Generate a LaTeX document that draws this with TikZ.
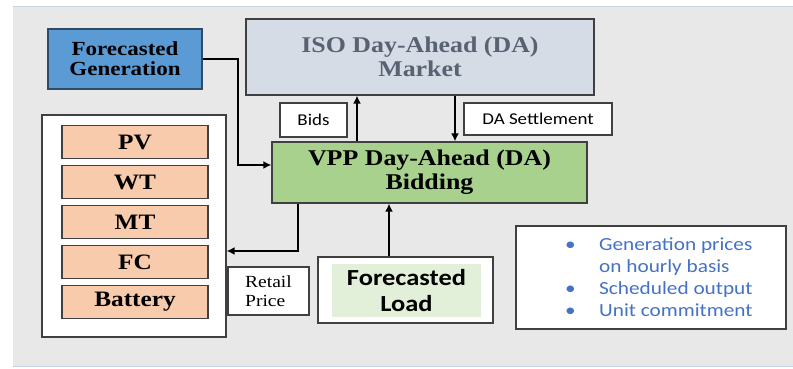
\documentclass[tikz,border=0pt]{standalone}
\usepackage{fontspec}
\setmainfont[FakeStretch=1.15]{Liberation Serif}
\newfontfamily\calibrifont[FakeStretch=1.15]{Carlito}
\usetikzlibrary{arrows.meta, positioning, calc}
\definecolor{PanelGray}{HTML}{E8E8E8}
\definecolor{PanelEdge}{HTML}{C9D3E3}
\definecolor{GenBlue}{HTML}{5B9BD5}
\definecolor{GenEdge}{HTML}{2F4B66}
\definecolor{MarketGray}{HTML}{D6DCE5}
\definecolor{MarketText}{HTML}{596273}
\definecolor{BidGreen}{HTML}{A9D18E}
\definecolor{LoadGreen}{HTML}{E2F0D9}
\definecolor{UnitPeach}{HTML}{F8CBAD}
\definecolor{ListBlue}{HTML}{4472C4}
\definecolor{EdgeGray}{HTML}{404040}
\tikzset{
    % Node styles
    mainbox/.style={
        rectangle,
        draw=EdgeGray,
        line width=1.3pt,
        inner sep=0pt,
        align=center,
        font=\bfseries\fontsize{22.5}{24}\selectfont
    },
    unitbox/.style={
        rectangle,
        draw=EdgeGray,
        fill=UnitPeach,
        line width=1.2pt,
        minimum width=146pt,
        minimum height=33pt,
        inner sep=0pt,
        font=\bfseries\fontsize{22}{24}\selectfont
    },
    labelbox/.style={
        rectangle,
        draw=EdgeGray,
        fill=white,
        line width=1.2pt,
        inner sep=0pt,
        align=center
    },
    % Arrow styles
    myarrow/.style={
        -{Latex[length=8pt,width=8pt]},
        line width=2.5pt,
        black
    }
}
\begin{document}
\begin{tikzpicture}[x=1pt,y=-1pt]
    \useasboundingbox (0,0) rectangle (793,369);

    % Background panel
    \fill[PanelGray] (13,7) rectangle (793,366);
    \draw[PanelEdge,line width=1pt] (13,7) -- (793,7);
    \draw[PanelEdge,line width=1pt] (13,366) -- (793,366);

    % Forecasted generation
    \node[mainbox, draw=GenEdge, fill=GenBlue, minimum width=154pt, minimum height=60pt,
          font=\bfseries\fontsize{20}{20}\selectfont] (gen) at (125,59) {Forecasted\\Generation};

    % ISO market
    \node[mainbox, fill=MarketGray, text=MarketText, minimum width=348pt, minimum height=76pt] (iso) at (420,57) {ISO Day-Ahead (DA)\\Market};

    % VPP bidding
    \node[mainbox, fill=BidGreen, minimum width=315pt, minimum height=61pt] (vpp) at (429.5,172.5) {VPP Day-Ahead (DA)\\Bidding};

    % Labels between market and VPP
    \node[labelbox, minimum width=67pt, minimum height=34pt,
          font=\calibrifont\fontsize{16.5}{18}\selectfont] (bids) at (313.5,120) {Bids};
    \node[labelbox, minimum width=148pt, minimum height=32pt,
          font=\calibrifont\fontsize{16.5}{18}\selectfont] (settle) at (538,119) {DA Settlement};

    % Units
    \node[labelbox, minimum width=184pt, minimum height=222pt] (units) at (134,226) {};
    \foreach \unit [count=\i from 0] in {PV,WT,MT,FC,Battery}
        \node[unitbox] (unit\i) at (135,{142+40*\i}) {\unit};

    % Retail price
    \node[labelbox, minimum width=81pt, minimum height=48pt, align=left,
          font=\fontsize{17}{19}\selectfont] (retail) at (268.5,291) {Retail\\Price};

    % Forecasted load
    \node[labelbox, minimum width=175pt, minimum height=66pt] (load) at (405.5,290) {};
    \node[rectangle, fill=LoadGreen, minimum width=149pt, minimum height=53pt, inner sep=0pt, align=center,
          font=\calibrifont\bfseries\fontsize{23}{26}\selectfont] (loadtext) at (406.5,290.5) {Forecasted\\Load};

    % Outputs
    \node[labelbox, minimum width=270pt, minimum height=103pt] (outputs) at (651,277.5) {};
    \node[anchor=west, inner sep=0pt, align=left, text=ListBlue,
          font=\calibrifont\fontsize{18.5}{22}\selectfont] (outlist) at (565,277)
          {\makebox[34pt][l]{\textbullet}Generation prices\\
           \makebox[34pt][l]{}on hourly basis\\
           \makebox[34pt][l]{\textbullet}Scheduled output\\
           \makebox[34pt][l]{\textbullet}Unit commitment};

    % Connectors
    \coordinate (genbend) at (238,165);
    \coordinate (bidsx) at (357,0);
    \coordinate (settlex) at (455,0);
    \coordinate (retailbend) at (298,251);
    \coordinate (loadx) at (389,0);

    \draw[myarrow] (gen.east) -| (genbend) -- (genbend -| vpp.west);
    \draw[myarrow] (vpp.north -| bidsx) -- (iso.south -| bidsx);
    \draw[myarrow] (iso.south -| settlex) -- (vpp.north -| settlex);
    \draw[myarrow] (vpp.south -| retailbend) -- (retailbend) -- (retailbend -| units.east);
    \draw[myarrow] (load.north -| loadx) -- (vpp.south -| loadx);
\end{tikzpicture}
\end{document}
